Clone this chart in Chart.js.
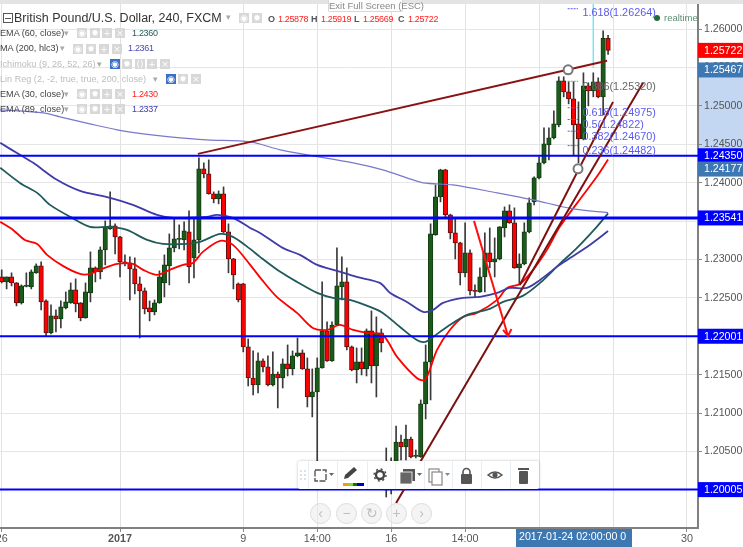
<!DOCTYPE html>
<html><head><meta charset="utf-8">
<style>
html,body{margin:0;padding:0;background:#fff;width:743px;height:547px;overflow:hidden;font-family:"Liberation Sans",Arial,sans-serif}
#c{position:absolute;left:0;top:0}
.o{position:absolute;white-space:nowrap}
.topbar{left:0;top:0;width:743px;height:4px;background:#e4e4e4}
.exit{left:328px;top:0;width:73px;height:11px;border:1px solid #d8d8d8;border-top:none;background:#fdfdfd;color:#8a8a8a;font-size:9.5px;line-height:11px;text-align:center;border-radius:0 0 2px 2px}
.ttl{left:14px;top:10px;font-size:12.5px;color:#333;line-height:17px}
.mn{left:3px;top:13px;width:8px;height:8px;border:1px solid #555}
.mn:after{content:"";position:absolute;left:1px;right:1px;top:3.5px;height:1px;background:#555}
.ohl{top:13px;font-size:9px;line-height:12px;color:#555;font-weight:bold}
.ohl.v{color:#ff2020;font-weight:normal;letter-spacing:-.35px}
.r{font-size:9.1px;line-height:13px;color:#444}
.dim{color:#bdbdbd}
.v2{font-size:9px;line-height:13px;letter-spacing:-.3px}
.car{font-size:9px;color:#aaa;line-height:13px}
.b{width:10px;height:10px;background:#d8d8d8;color:#fff;font-size:9px;line-height:10px;text-align:center;font-family:"DejaVu Sans"}
.b.on{background:#3a70c8}
.rt{left:664px;top:12px;font-size:9.5px;line-height:12px;color:#5b8f72}
.dot{left:654px;top:15px;width:6px;height:6px;border-radius:50%;background:#1f6b3f}
.tb{left:298px;top:461px;width:241px;height:28px;background:#fff;box-shadow:0 0 3px rgba(0,0,0,.25);border-radius:2px}
.sep{position:absolute;top:0;width:1px;height:28px;background:#e8eef4}
.rb{width:19px;height:19px;border-radius:50%;background:rgba(236,236,236,.6);border:1px solid #dcdcdc;color:#c0c0c0;font-size:14px;line-height:18px;text-align:center;top:503px}
svg{position:absolute;overflow:visible}
</style>
<script src="https://cdn.jsdelivr.net/npm/chart.js@4/dist/chart.umd.min.js"></script>
</head><body>
<canvas id="c" width="743" height="547"></canvas>
<div class="o topbar"></div>
<div class="o exit">Exit Full Screen (ESC)</div>
<div class="o mn"></div>
<div class="o ttl">British Pound/U.S. Dollar, 240, FXCM</div>
<div class="o car" style="left:226px;top:11px">▾</div>
<div class="o b" style="left:239px;top:13px">◉</div><div class="o b" style="left:252px;top:13px">✹</div>
<div class="o ohl" style="left:268px">O</div><div class="o ohl v" style="left:278px">1.25878</div>
<div class="o ohl" style="left:311px">H</div><div class="o ohl v" style="left:321px">1.25919</div>
<div class="o ohl" style="left:354px">L</div><div class="o ohl v" style="left:363px">1.25669</div>
<div class="o ohl" style="left:398px">C</div><div class="o ohl v" style="left:408px">1.25722</div>

<div class="o r" style="left:0;top:27px">EMA (60, close)</div><div class="o car" style="left:64px;top:27px">▾</div>
<div class="o b" style="left:77px;top:28px">◉</div><div class="o b" style="left:90px;top:28px">✹</div><div class="o b" style="left:102px;top:28px">+</div><div class="o b" style="left:115px;top:28px">×</div>
<div class="o v2" style="left:132px;top:27px;color:#1f5a5a">1.2360</div>

<div class="o r" style="left:0;top:42px">MA (200, hlc3)</div><div class="o car" style="left:60px;top:42px">▾</div>
<div class="o b" style="left:73px;top:44px">◉</div><div class="o b" style="left:86px;top:44px">✹</div><div class="o b" style="left:99px;top:44px">+</div><div class="o b" style="left:112px;top:44px">×</div>
<div class="o v2" style="left:128px;top:42px;color:#4a48b0">1.2361</div>

<div class="o r dim" style="left:0;top:58px">Ichimoku (9, 26, 52, 26)</div><div class="o car" style="left:97px;top:58px">▾</div>
<div class="o b on" style="left:110px;top:59px">◉</div><div class="o b" style="left:122px;top:59px">✹</div><div class="o b" style="left:135px;top:59px">()</div><div class="o b" style="left:147px;top:59px">+</div><div class="o b" style="left:160px;top:59px">×</div>

<div class="o r dim" style="left:0;top:73px">Lin Reg (2, -2, true, true, 200, close)</div><div class="o car" style="left:153px;top:73px">▾</div>
<div class="o b on" style="left:166px;top:74px">◉</div><div class="o b" style="left:178px;top:74px">✹</div><div class="o b" style="left:191px;top:74px">×</div>

<div class="o r" style="left:0;top:88px">EMA (30, close)</div><div class="o car" style="left:64px;top:88px">▾</div>
<div class="o b" style="left:77px;top:89px">◉</div><div class="o b" style="left:90px;top:89px">✹</div><div class="o b" style="left:102px;top:89px">+</div><div class="o b" style="left:115px;top:89px">×</div>
<div class="o v2" style="left:132px;top:88px;color:#ff2020">1.2430</div>

<div class="o r" style="left:0;top:103px">EMA (89, close)</div><div class="o car" style="left:64px;top:103px">▾</div>
<div class="o b" style="left:77px;top:104px">◉</div><div class="o b" style="left:90px;top:104px">✹</div><div class="o b" style="left:102px;top:104px">+</div><div class="o b" style="left:115px;top:104px">×</div>
<div class="o v2" style="left:132px;top:103px;color:#3f3ca8">1.2337</div>

<div class="o dot"></div><div class="o rt">realtime</div>

<div class="o tb">
<span class="sep" style="left:10px"></span><span class="sep" style="left:39px"></span><span class="sep" style="left:69px"></span><span class="sep" style="left:97px"></span><span class="sep" style="left:126px"></span><span class="sep" style="left:154px"></span><span class="sep" style="left:183px"></span><span class="sep" style="left:212px"></span>
<svg width="241" height="28" style="left:0;top:0">
<g fill="#cfd8e0"><circle cx="3" cy="10" r="1"/><circle cx="7" cy="10" r="1"/><circle cx="3" cy="14" r="1"/><circle cx="7" cy="14" r="1"/><circle cx="3" cy="18" r="1"/><circle cx="7" cy="18" r="1"/></g>
<rect x="17" y="9" width="11" height="11" fill="none" stroke="#555" stroke-width="1.4" stroke-dasharray="6 1.5"/><path d="M31 12h5l-2.5 3z" fill="#666"/>
<path d="M46 18l1-4 9-8 3 3-9 8z" fill="#444"/>
<rect x="45" y="22" width="5" height="3" fill="#f0a000"/><rect x="50" y="22" width="5" height="3" fill="#9acd32"/><rect x="55" y="22" width="4" height="3" fill="#008000"/><rect x="59" y="22" width="7" height="3" fill="#0000c0"/>
<circle cx="82" cy="14" r="4" fill="none" stroke="#444" stroke-width="2.4"/><circle cx="82" cy="14" r="6" fill="none" stroke="#444" stroke-width="1.4" stroke-dasharray="2 2.7"/>
<rect x="105" y="8" width="12" height="12" fill="#555"/><rect x="102" y="11" width="12" height="12" fill="#666" stroke="#fff" stroke-width=".8"/><path d="M119 12h5l-2.5 3z" fill="#666"/>
<rect x="131" y="8" width="10" height="13" fill="#fff" stroke="#888" stroke-width="1.2"/><rect x="134" y="11" width="10" height="13" fill="#fff" stroke="#888" stroke-width="1.2"/><path d="M147 12h5l-2.5 3z" fill="#888"/>
<rect x="163" y="13" width="11" height="10" rx="1" fill="#555"/><path d="M165 13v-2a3.5 3.5 0 0 1 7 0v2" fill="none" stroke="#555" stroke-width="1.6"/>
<path d="M190 14q7-6 14 0q-7 6-14 0z" fill="none" stroke="#555" stroke-width="1.5"/><circle cx="197" cy="14" r="2.6" fill="#555"/>
<rect x="221" y="10" width="9" height="13" rx="1" fill="#555"/><rect x="220" y="7" width="11" height="2" fill="#555"/>
</svg></div>
<div class="o rb" style="left:310px">‹</div><div class="o rb" style="left:336px">−</div><div class="o rb" style="left:361px">↻</div><div class="o rb" style="left:386px">+</div><div class="o rb" style="left:411px">›</div>

<script>
// ---- tick labels ----
const xTickIdx    = [0, 24, 49, 64, 79, 94, 109, 124, 139];
const xTickLabels = ['26','2017','9','14:00','16','14:00','23','14:00','30'];
const rightLabelDate = '2017-01-24 02:00:00 0';

// ---- candles, one entry per 240 minute bar ----
const opens = [1.22773,1.22708,1.22773,1.22695,1.22435,1.22650,1.22643,1.22826,1.22917,1.22461,1.22044,1.22266,1.22227,1.22370,1.22435,1.22604,1.22435,1.22240,1.22565,1.22891,1.22839,1.23125,1.23398,1.23438,1.23294,1.22969,1.22956,1.22878,1.22682,1.22591,1.22370,1.22318,1.22435,1.22695,1.22917,1.23151,1.23262,1.23255,1.23359,1.23021,1.23255,1.24180,1.24115,1.23854,1.23789,1.23854,1.23359,1.23008,1.22682,1.22682,1.21862,1.21458,1.21367,1.21680,1.21602,1.21367,1.21510,1.21458,1.21641,1.21576,1.21745,1.21784,1.21576,1.21211,1.21276,1.21589,1.22070,1.21680,1.22148,1.22643,1.22708,1.21862,1.21563,1.21667,1.21576,1.22070,1.21615,1.22044,1.20039,1.20100,1.20300,1.20625,1.20560,1.20664,1.20437,1.20430,1.21120,1.21667,1.23320,1.23815,1.24167,1.23581,1.23346,1.23216,1.22826,1.23086,1.22591,1.22578,1.22773,1.23086,1.22969,1.23008,1.23411,1.23633,1.23477,1.22891,1.22943,1.23359,1.23750,1.24063,1.24258,1.24492,1.24583,1.24753,1.25326,1.25182,1.25091,1.24766,1.24570,1.25260,1.25195,1.25313,1.25117,1.25878];
const closes = [1.22708,1.22773,1.22695,1.22435,1.22656,1.22656,1.22839,1.22917,1.22448,1.22044,1.22266,1.22227,1.22383,1.22448,1.22604,1.22422,1.22240,1.22578,1.22891,1.22839,1.23125,1.23425,1.23438,1.23294,1.22969,1.22943,1.22878,1.22682,1.22591,1.22357,1.22318,1.22435,1.22773,1.22930,1.23151,1.23268,1.23268,1.23372,1.22904,1.23255,1.24180,1.24115,1.23854,1.23789,1.23854,1.23359,1.23008,1.22800,1.22474,1.21862,1.21458,1.21367,1.21680,1.21602,1.21367,1.21510,1.21458,1.21641,1.21576,1.21745,1.21784,1.21576,1.21211,1.21276,1.21589,1.22070,1.21680,1.22148,1.22656,1.22708,1.21862,1.21563,1.21667,1.21576,1.22070,1.21615,1.22044,1.21914,1.20000,1.20365,1.20625,1.20560,1.20664,1.20430,1.20443,1.21120,1.21667,1.23333,1.23815,1.24167,1.23581,1.23346,1.23216,1.22826,1.23086,1.22591,1.22585,1.22773,1.23086,1.22969,1.23008,1.23425,1.23633,1.23477,1.22891,1.22943,1.23359,1.23737,1.24063,1.24258,1.24505,1.24583,1.24766,1.25326,1.25182,1.25091,1.24753,1.24570,1.25260,1.25195,1.25313,1.25117,1.25878,1.25722];
const highs  = [1.22865,1.22773,1.22826,1.22700,1.22670,1.22826,1.22865,1.22943,1.22969,1.22474,1.22409,1.22344,1.22461,1.22578,1.22695,1.22747,1.22440,1.22695,1.23099,1.22904,1.23164,1.23503,1.23880,1.23464,1.23300,1.23060,1.23034,1.23021,1.22773,1.22630,1.22461,1.22474,1.22852,1.23060,1.23333,1.23542,1.23451,1.23490,1.23633,1.23542,1.24323,1.24258,1.24297,1.23880,1.23893,1.23945,1.23464,1.23015,1.22695,1.22690,1.21966,1.21810,1.21784,1.21706,1.21745,1.21797,1.21536,1.21706,1.21888,1.21810,1.21979,1.21823,1.21719,1.21576,1.21719,1.22708,1.22188,1.22188,1.23151,1.23034,1.22891,1.21875,1.21849,1.21849,1.22096,1.22331,1.22253,1.22096,1.20547,1.20417,1.20833,1.20716,1.20846,1.20690,1.20521,1.21172,1.21888,1.23464,1.23971,1.24175,1.24175,1.23590,1.23542,1.23225,1.23477,1.23125,1.22669,1.22891,1.23346,1.23411,1.23281,1.23430,1.23685,1.23711,1.23672,1.23073,1.23477,1.23802,1.24076,1.24336,1.24714,1.24714,1.24935,1.25378,1.25378,1.25313,1.25313,1.25052,1.25430,1.25300,1.25430,1.25365,1.25977,1.25919];
const lows   = [1.22695,1.22617,1.22656,1.22396,1.22420,1.22643,1.22617,1.22820,1.22344,1.22005,1.22031,1.22057,1.22109,1.22357,1.22430,1.22318,1.22201,1.22235,1.22448,1.22708,1.22747,1.22930,1.23390,1.23073,1.22773,1.22917,1.22474,1.22552,1.21979,1.22292,1.22201,1.22279,1.22430,1.22513,1.22669,1.23099,1.23138,1.23125,1.22695,1.22760,1.23086,1.24063,1.23850,1.23737,1.23724,1.23350,1.22826,1.22617,1.22448,1.21797,1.21354,1.21237,1.21263,1.21536,1.21354,1.21354,1.21068,1.21328,1.21484,1.21497,1.21732,1.21570,1.21081,1.20951,1.20365,1.21585,1.21675,1.21675,1.22140,1.22474,1.21823,1.21550,1.21393,1.21497,1.21484,1.21393,1.21211,1.21797,1.19909,1.19950,1.20250,1.20391,1.20391,1.20417,1.20417,1.20425,1.20925,1.21172,1.23315,1.23750,1.23555,1.23268,1.23008,1.22669,1.22773,1.22539,1.22513,1.22570,1.22578,1.22891,1.22773,1.22995,1.23294,1.23470,1.22885,1.22669,1.22930,1.23346,1.23711,1.24050,1.24245,1.24297,1.24570,1.24727,1.25117,1.25026,1.24362,1.24258,1.24557,1.25000,1.25117,1.25104,1.24883,1.25669];

// ---- moving averages at bar positions ----
const ema30Idx = [-0.3,2.3,4.7,7.2,9.2,12.4,15.9,17.9,19.9,23.4,26.6,28.7,31.5,34.1,36.8,38.8,40.8,44.3,46.9,50.4,52.8,55.8,59.9,63.1,66,68.6,71.3,74.1,77.3,80.2,84.2,85.9,88.3,90.9,93.6,96.4,100.5,102.5,105.1,107.8,110.6,113.2,116.9,120.7,123];
const ema30Val = [1.2349,1.23385,1.23255,1.23203,1.2306,1.22917,1.22812,1.22812,1.22865,1.22943,1.22943,1.22865,1.228,1.22865,1.2293,1.22956,1.23099,1.23242,1.2319,1.2293,1.22734,1.22513,1.22305,1.22109,1.22083,1.22148,1.22083,1.22044,1.22018,1.21732,1.21458,1.21432,1.21823,1.22083,1.22253,1.22305,1.22474,1.2263,1.22682,1.22865,1.23125,1.23425,1.2375,1.24076,1.243];
const ema60Idx = [-0.3,3.7,7.2,9.8,13.9,17.9,22,25.4,29.5,32.7,37.6,40.2,44.3,46.9,50.4,52.4,56.5,59.9,64,67.2,70.6,74.7,77.3,80.8,84.2,85.9,87.5,90.3,94.4,99,101.7,105.7,109.2,113.2,116.7,120.7,123];
const ema60Val = [1.24193,1.23997,1.23867,1.23711,1.23555,1.23425,1.23425,1.23385,1.23255,1.23203,1.23203,1.23229,1.23333,1.23294,1.23138,1.23034,1.22839,1.22708,1.22565,1.225,1.22474,1.22383,1.22305,1.22122,1.21953,1.21927,1.21992,1.22122,1.22279,1.22357,1.22448,1.22526,1.22695,1.22943,1.23151,1.23425,1.236];
const ema89Idx = [-0.3,3.7,6.4,11.2,15.9,22,26.6,31.5,34.8,41.6,43.7,46.9,50.4,52.4,57,60.5,64,68,72,76.7,78.8,82.2,85.5,87.5,89.5,93.6,97,100.5,103.1,106.5,109.2,112.6,114.7,119.3,123];
const ema89Val = [1.24518,1.24362,1.24258,1.24037,1.23893,1.23802,1.23711,1.23581,1.23542,1.23555,1.23581,1.23542,1.23411,1.23346,1.23151,1.2306,1.2293,1.22852,1.22773,1.22695,1.22565,1.22448,1.22318,1.22344,1.22435,1.225,1.22513,1.22565,1.2263,1.2263,1.22734,1.22904,1.22995,1.2319,1.2337];
const ma200Idx = [-0.3,8.4,11.8,17.9,23.4,28.7,34.1,41.6,50.4,56.5,61.9,71.3,77.3,82.2,85.5,91.5,100.5,107.8,115.9,123];
const ma200Val = [1.24948,1.24909,1.24857,1.24766,1.24688,1.24635,1.24596,1.24557,1.24531,1.24427,1.24362,1.24258,1.24167,1.24063,1.23997,1.23971,1.23867,1.23776,1.23659,1.2361];

// ---- horizontal levels and flags ----
const levels     = [1.2435, 1.23541, 1.22001, 1.20005];
const flagPrices = [1.25722, 1.25467, 1.2435, 1.24177, 1.23541, 1.22001, 1.20005];
const bandPrices = [1.24177, 1.25467];

// ---- drawings ----
const trend1Idx = [39.8, 122.8];  const trend1Val = [1.24375, 1.25586];
const trend2Idx = [80, 130.1];    const trend2Val = [1.19831, 1.25300];
const trend3Idx = [105.1, 124];   const trend3Val = [1.22669, 1.25052];
const arrowIdx  = [95.8, 102.7];  const arrowVal  = [1.23503, 1.22005];
const headIdx   = [101.7, 102.7, 103.4]; const headVal = [1.22083, 1.22005, 1.22096];
const handleIdx = [114.9, 116.9]; const handleVal = [1.25469, 1.24180];
const markerIdx = [120, 120];     const markerVal = [1.2634, 1.25495];

const fibRatios = ['1.618','0.886','0.618','0.5','0.382','0.236'];
const fibPrices = [1.26264, 1.2532, 1.24975, 1.24822, 1.2467, 1.24482];
const fibSpan   = [114.8, 116.9];

const zip = (xs, ys) => xs.map((x, i) => ({x, y: ys[i]}));
const idxs = opens.map((_, i) => i);
const UP = '#1a5a1a', DOWN = '#ff0000';
const xMin = -0.345, xMax = 141.24, yMin = 1.195052, yMax = 1.263255;

const extras = {
  id: 'extras',
  beforeDraw(ch) {
    const c = ch.ctx, y = ch.scales.y;
    c.save(); c.fillStyle = '#c3d6f2';
    const a = y.getPixelForValue(bandPrices[1]), b = y.getPixelForValue(bandPrices[0]);
    c.fillRect(ch.chartArea.right, a, 743 - ch.chartArea.right, b - a);
    c.restore();
  },
  afterDatasetsDraw(ch) {
    const c = ch.ctx, y = ch.scales.y, x = ch.scales.x;
    c.save(); c.font = '10.8px "Liberation Sans"'; c.textBaseline = 'middle'; c.textAlign = 'left';
    fibRatios.forEach((r, i) => {
      const py = y.getPixelForValue(fibPrices[i]);
      c.fillStyle = r === '0.886' ? '#666' : '#5a5af0';
      c.fillText(r + '(' + fibPrices[i].toFixed(5) + ')', x.getPixelForValue(fibSpan[1]) + 4.5, py + (i === 0 ? 4.5 : 5.5));
    });
    c.restore();
  },
  afterDraw(ch) {
    const c = ch.ctx, y = ch.scales.y, right = ch.chartArea.right;
    c.save(); c.font = '10.6px "Liberation Sans"'; c.textBaseline = 'middle'; c.textAlign = 'left';
    flagPrices.forEach(p => {
      const py = y.getPixelForValue(p);
      let col = '#0000ff';
      if (p === 1.25722) col = '#ff0000';
      if (p === 1.25467 || p === 1.24177) col = '#3d78b2';
      c.fillStyle = col; c.fillRect(right, py - 7.5, 743 - right, 15);
      c.fillStyle = '#fff'; c.fillText(p.toFixed(5), 704, py + 0.5);
    });
    const xp = 519;
    c.fillStyle = '#3d78b2'; c.fillRect(xp - 3, 529, 116, 18);
    c.fillStyle = '#fff'; c.fillText(rightLabelDate, xp, 537.5);
    c.restore();
  }
};

const hline = (v) => ({type:'line', data:[{x:xMin,y:v},{x:xMax,y:v}], borderColor:'#0000ff', borderWidth:v===1.23541?3:2, pointRadius:0, order:40});
const seg = (xs, ys, col, w, ord) => ({type:'line', data:zip(xs, ys), borderColor:col, borderWidth:w, pointRadius:0, order:ord});
const avg = (xs, ys, col, w) => ({type:'line', data:zip(xs, ys), borderColor:col, borderWidth:w, pointRadius:0, tension:.3, order:50});

new Chart(document.getElementById('c'), {
  type: 'bar',
  plugins: [extras],
  data: { datasets: [
    {type:'bar', label:'wicks', data: idxs.map(i => ({x:i, y:[lows[i], highs[i]]})), backgroundColor:'#3a3a3a', barThickness:1, grouped:false, order:100},
    {type:'bar', label:'bodies', data: idxs.map(i => ({x:i, y:[opens[i], closes[i]]})),
      backgroundColor: idxs.map(i => closes[i] >= opens[i] ? UP : DOWN),
      borderColor: idxs.map(i => closes[i] >= opens[i] ? '#123c12' : '#5a1010'),
      borderWidth:1, borderSkipped:false, barThickness:4.5, minBarLength:1, grouped:false, order:90},
    avg(ma200Idx, ma200Val, '#7a78cc', 1.2),
    avg(ema89Idx, ema89Val, '#3f3ca8', 1.8),
    avg(ema60Idx, ema60Val, '#1f5a5a', 1.8),
    avg(ema30Idx, ema30Val, '#ff0000', 1.8),
    ...levels.map(hline),
    seg(markerIdx, markerVal, '#7fe3ee', 1.5, 35),
    ...fibPrices.map((p, i) => ({type:'line', data:[{x:fibSpan[0],y:p},{x:fibSpan[1],y:p}], borderColor:i===1?'#888':'#5a5af0', borderWidth:1, borderDash:[2,1], pointRadius:0, order:34})),
    seg(trend1Idx, trend1Val, '#8b1212', 2, 30),
    seg(trend2Idx, trend2Val, '#7a1010', 2, 30),
    seg(trend3Idx, trend3Val, '#7a1010', 2, 30),
    seg(arrowIdx, arrowVal, '#ff1010', 2, 25),
    seg(headIdx, headVal, '#ff1010', 2, 25),
    {type:'line', data:zip(handleIdx, handleVal), showLine:false, pointRadius:4.5, pointBorderWidth:2, pointBackgroundColor:'#fff', pointBorderColor:'#777', order:10}
  ]},
  options: {
    responsive:false, animation:false, devicePixelRatio:1,
    layout:{autoPadding:false, padding:{left:0,right:0,top:4,bottom:0}},
    plugins:{legend:{display:false},tooltip:{enabled:false}},
    scales:{
      x:{type:'linear', offset:false, min:xMin, max:xMax,
        afterBuildTicks(s){ s.ticks = xTickIdx.map(v => ({value:v})); },
        afterFit(s){ s.height = 19; s.paddingLeft = 0; s.paddingRight = 0; },
        ticks:{autoSkip:false, maxRotation:0, padding:1, color:'#555',
          font(ctx){ const i = xTickIdx.indexOf(ctx.tick && ctx.tick.value); return {family:'"Liberation Sans"', size:10.8, weight:i===1?'bold':'normal'}; },
          callback(v){ const i = xTickIdx.indexOf(v); return i < 0 ? '' : xTickLabels[i]; }},
        grid:{color:'#e2e2e2', lineWidth:1, offset:false, tickLength:4, tickColor:'#888'},
        border:{color:'#808080', width:2}},
      y:{type:'linear', position:'right', min:yMin, max:yMax, beginAtZero:false,
        afterFit(s){ s.width = 45; s.paddingTop = 0; s.paddingBottom = 0; },
        ticks:{stepSize:0.005, includeBounds:false, padding:2, color:'#555', font:{family:'"Liberation Sans"', size:10.6},
          callback(v){ return Number(v).toFixed(5); }},
        grid:{color:'#e6e6e6', lineWidth:1, tickLength:4, tickColor:'#888'},
        border:{color:'#808080', width:2}}
    }
  }
});
</script>
</body></html>
